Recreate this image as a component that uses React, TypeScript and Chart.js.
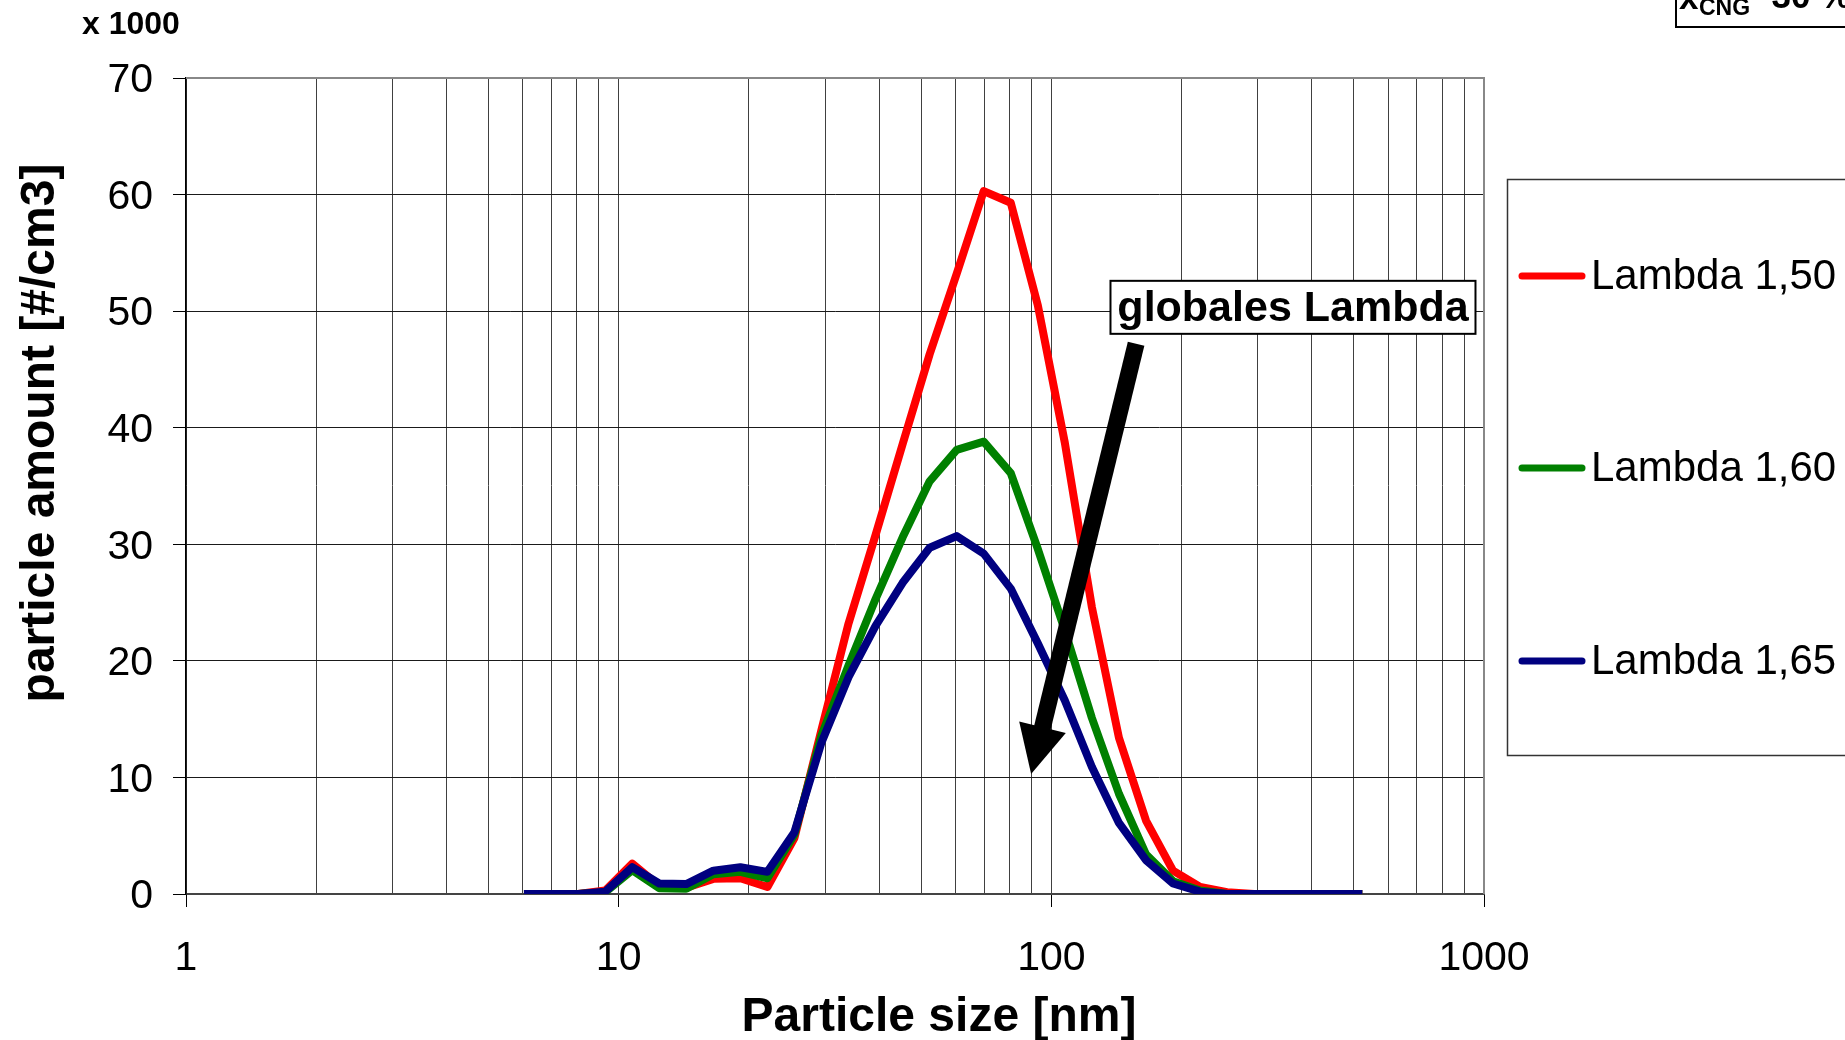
import React, { useEffect, useRef } from 'react';
import { Chart, registerables } from 'chart.js';

Chart.register(...registerables);

const FONT = '"Liberation Sans", Arial, Helvetica, sans-serif';
Chart.defaults.font.family = FONT;

// Particle size channels [nm]
const particleSizes = [
  6.04, 6.98, 8.06, 9.31, 10.75, 12.41, 14.33, 16.55, 19.11, 22.07, 25.48,
  29.43, 33.98, 39.24, 45.32, 52.33, 60.43, 69.78, 80.58, 93.06, 107.46,
  124.1, 143.3, 165.5, 191.1, 220.7, 254.8, 294.3, 339.8, 392.4, 453.2, 523.3,
];

// particle amount [#/cm3] x 1000
const lambda150 = [
  0, 0, 0, 0.3, 2.6, 0.7, 0.55, 1.3, 1.35, 0.6, 4.8,
  14.1, 23.2, 30.8, 38.6, 46.3, 53.2, 60.3, 59.3, 50.5, 38.7,
  24.6, 13.4, 6.3, 2.0, 0.6, 0.15, 0, 0, 0, 0, 0,
];
const lambda160 = [
  0, 0, 0, 0.15, 2.05, 0.5, 0.45, 1.7, 1.9, 1.35, 5.1,
  13.6, 19.6, 25.3, 30.6, 35.4, 38.1, 38.8, 36.1, 29.6, 22.6,
  15.1, 8.6, 3.4, 1.1, 0.3, 0, 0, 0, 0, 0, 0,
];
const lambda165 = [
  0, 0, 0, 0.2, 2.3, 0.9, 0.85, 2.0, 2.3, 1.9, 5.3,
  13.0, 18.6, 23.0, 26.7, 29.7, 30.7, 29.2, 26.2, 21.5, 16.6,
  10.9, 6.1, 2.9, 0.9, 0.2, 0, 0, 0, 0, 0, 0,
];

const seriesLabels = ['Lambda 1,50', 'Lambda 1,60', 'Lambda 1,65'];
const seriesColors = ['#ff0000', '#008000', '#000080'];

const xGridValues = [
  1, 2, 3, 4, 5, 6, 7, 8, 9,
  10, 20, 30, 40, 50, 60, 70, 80, 90,
  100, 200, 300, 400, 500, 600, 700, 800, 900, 1000,
];
const xLabelValues = [1, 10, 100, 1000];
const yMin = 0;
const yMax = 70;
const yStep = 10;

const xTitle = 'Particle size [nm]';
const yTitle = 'particle amount [#/cm3]';
const yUnitNote = 'x 1000';
const annotationText = 'globales Lambda';
const annotationAnchor = { x: 137, y: 52.6 };
const arrowFrom = { x: 157, y: 47.2 };
const arrowTo = { x: 89.8, y: 10.3 };
const cornerMain = 'x';
const cornerSub = 'CNG';
const cornerRest = '  30 %';

const decorPlugin = {
  id: 'decor',
  beforeDatasetsDraw(chart: any) {
    const { ctx, chartArea: a } = chart;
    ctx.save();
    ctx.strokeStyle = '#888888';
    ctx.lineWidth = 2;
    ctx.beginPath();
    ctx.moveTo(a.left, a.top);
    ctx.lineTo(a.right, a.top);
    ctx.lineTo(a.right, a.bottom);
    ctx.stroke();
    ctx.restore();
  },
  afterDraw(chart: any) {
    const { ctx, chartArea: a } = chart;
    const xs = chart.scales.x;
    const ys = chart.scales.y;
    ctx.save();
    ctx.fillStyle = '#000';

    // unit note
    ctx.font = `bold 32px ${FONT}`;
    ctx.textAlign = 'left';
    ctx.textBaseline = 'alphabetic';
    ctx.fillText(yUnitNote, 82, 34);

    // x title
    ctx.font = `bold 48px ${FONT}`;
    ctx.textAlign = 'center';
    ctx.textBaseline = 'middle';
    ctx.fillText(xTitle, a.left + 753, 1018);

    // y title
    ctx.save();
    ctx.translate(41, 433);
    ctx.rotate(-Math.PI / 2);
    ctx.fillText(yTitle, 0, 0);
    ctx.restore();

    // arrow
    const tx = xs.getPixelForValue(arrowTo.x);
    const ty = ys.getPixelForValue(arrowTo.y);
    const sx = xs.getPixelForValue(arrowFrom.x);
    const sy = ys.getPixelForValue(arrowFrom.y);
    const dx = tx - sx;
    const dy = ty - sy;
    const len = Math.hypot(dx, dy);
    const ux = dx / len;
    const uy = dy / len;
    const headLen = 48;
    const headHalf = 24;
    const bx = tx - ux * headLen;
    const by = ty - uy * headLen;
    ctx.strokeStyle = '#000';
    ctx.lineWidth = 17;
    ctx.lineCap = 'butt';
    ctx.beginPath();
    ctx.moveTo(sx, sy);
    ctx.lineTo(bx + ux * 2, by + uy * 2);
    ctx.stroke();
    ctx.beginPath();
    ctx.moveTo(tx, ty);
    ctx.lineTo(bx - uy * headHalf, by + ux * headHalf);
    ctx.lineTo(bx + uy * headHalf, by - ux * headHalf);
    ctx.closePath();
    ctx.fill();

    // annotation box
    const ax = xs.getPixelForValue(annotationAnchor.x);
    const ay = ys.getPixelForValue(annotationAnchor.y);
    const aw = 365;
    const ah = 53;
    ctx.fillStyle = '#fff';
    ctx.fillRect(ax, ay, aw, ah);
    ctx.strokeStyle = '#000';
    ctx.lineWidth = 2;
    ctx.strokeRect(ax, ay, aw, ah);
    ctx.fillStyle = '#000';
    ctx.font = `bold 43px ${FONT}`;
    ctx.textAlign = 'center';
    ctx.textBaseline = 'middle';
    ctx.fillText(annotationText, ax + aw / 2, ay + ah / 2 + 2);

    // legend
    const lx = 1507;
    const ly = 179;
    ctx.fillStyle = '#fff';
    ctx.fillRect(lx, ly, 400, 576);
    ctx.strokeStyle = '#333';
    ctx.lineWidth = 1.5;
    ctx.strokeRect(lx + 0.5, ly + 0.5, 400, 576);
    const rows = [276, 468, 661];
    chart.data.datasets.forEach((ds: any, i: number) => {
      const y = rows[i];
      ctx.strokeStyle = ds.borderColor;
      ctx.lineWidth = 7;
      ctx.lineCap = 'round';
      ctx.beginPath();
      ctx.moveTo(1522, y);
      ctx.lineTo(1582, y);
      ctx.stroke();
      ctx.fillStyle = '#000';
      ctx.font = `42px ${FONT}`;
      ctx.textAlign = 'left';
      ctx.textBaseline = 'middle';
      ctx.fillText(ds.label, 1591, y + 1);
    });

    // corner box (clipped by canvas edge)
    ctx.strokeStyle = '#000';
    ctx.lineWidth = 2;
    ctx.lineCap = 'butt';
    ctx.strokeRect(1676, -10, 220, 37);
    ctx.fillStyle = '#000';
    ctx.textAlign = 'left';
    ctx.textBaseline = 'alphabetic';
    ctx.font = `bold 35px ${FONT}`;
    ctx.fillText(cornerMain, 1679, 9);
    ctx.font = `bold 23px ${FONT}`;
    ctx.fillText(cornerSub, 1699, 15);
    ctx.font = `bold 35px ${FONT}`;
    ctx.fillText(cornerRest, 1752, 8);

    ctx.restore();
  },
};

export default function App() {
  const canvasRef = useRef<HTMLCanvasElement | null>(null);

  useEffect(() => {
    const canvas = canvasRef.current;
    if (!canvas) return;
    const datasetsValues = [lambda150, lambda160, lambda165];
    const chart = new Chart(canvas, {
      type: 'line',
      data: {
        datasets: datasetsValues.map((vals, i) => ({
          label: seriesLabels[i],
          data: particleSizes.map((x, j) => ({ x, y: vals[j] })),
          borderColor: seriesColors[i],
          backgroundColor: seriesColors[i],
          borderWidth: 8,
          pointRadius: 0,
          tension: 0,
          fill: false,
          borderJoinStyle: 'round',
          order: 3 - i,
        })),
      },
      options: {
        responsive: false,
        animation: false,
        events: [],
        layout: { padding: { top: 78, right: 361, left: 0, bottom: 0 } },
        plugins: {
          legend: { display: false },
          tooltip: { enabled: false },
          title: { display: false },
        },
        scales: {
          x: {
            type: 'logarithmic',
            min: 1,
            max: 1000,
            afterBuildTicks: (scale: any) => {
              scale.ticks = xGridValues.map((v) => ({ value: v }));
            },
            afterFit: (scale: any) => {
              scale.height = 146;
            },
            ticks: {
              autoSkip: false,
              maxRotation: 0,
              minRotation: 0,
              padding: 27,
              color: '#000',
              font: { size: 41, family: FONT },
              callback: (value: any) => (xLabelValues.includes(Number(value)) ? String(value) : ''),
            },
            grid: {
              color: '#404040',
              lineWidth: 1,
              tickLength: 13,
              tickColor: (ctx: any) =>
                ctx.tick && xLabelValues.includes(ctx.tick.value) ? '#000' : 'rgba(0,0,0,0)',
            },
            border: { display: true, color: '#444', width: 2 },
          },
          y: {
            type: 'linear',
            min: yMin,
            max: yMax,
            afterFit: (scale: any) => {
              scale.width = 186;
            },
            ticks: {
              stepSize: yStep,
              padding: 20,
              labelOffset: 3,
              color: '#000',
              font: { size: 41, family: FONT },
            },
            grid: {
              color: '#1a1a1a',
              lineWidth: 1,
              tickLength: 13,
              tickColor: '#000',
            },
            border: { display: true, color: '#000', width: 1.5 },
          },
        },
      },
      plugins: [decorPlugin],
    } as any);
    return () => chart.destroy();
  }, []);

  return (
    <div style={{ position: 'absolute', left: 0, top: 0, width: 1845, height: 1040, background: '#fff' }}>
      <canvas ref={canvasRef} width={1845} height={1040} style={{ display: 'block' }} />
    </div>
  );
}
